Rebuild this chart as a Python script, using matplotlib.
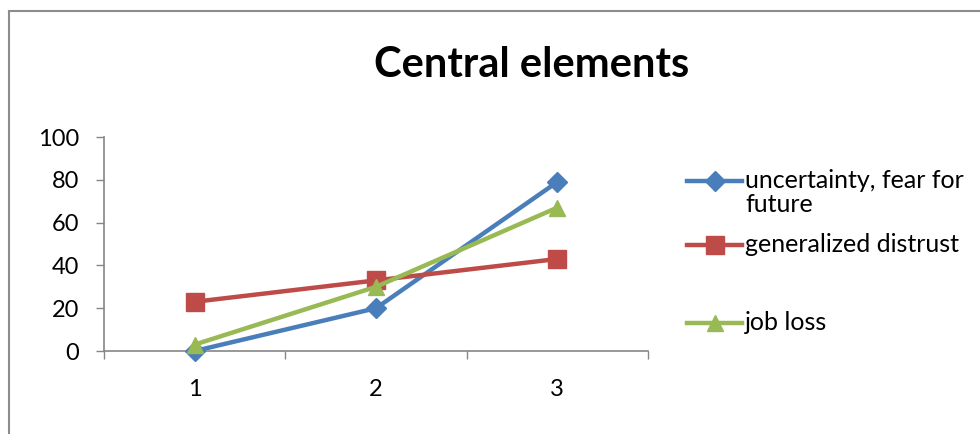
import matplotlib
matplotlib.use("Agg")
import matplotlib.pyplot as plt
from matplotlib.lines import Line2D

plt.rcParams['font.family'] = ['Lato', 'DejaVu Sans']

categories = [1, 2, 3]
uncertainty = [0, 20, 79]
distrust = [23, 33, 43]
job_loss = [3, 30, 67]
y_ticks = [0, 20, 40, 60, 80, 100]
title = "Central elements"

colors = ["#4A7EBB", "#BE4B48", "#98B954"]
markers = ["D", "s", "^"]
msizes = [10, 12.5, 12]

fig = plt.figure(figsize=(9.8, 4.34), dpi=100)
ax = fig.add_axes([104 / 980, 1 - 351 / 434, (648 - 104) / 980, (351 - 137) / 434])

for vals, c, m, ms in zip([uncertainty, distrust, job_loss], colors, markers, msizes):
    ax.plot(categories, vals, color=c, lw=3.2, marker=m, ms=ms,
            markerfacecolor=c, markeredgecolor=c, clip_on=False, zorder=3)

ax.set_xlim(0.5, 3.5)
ax.set_ylim(0, 100)
ax.set_yticks(y_ticks)
ax.set_xticks(categories)
ax.set_xticks([0.5, 1.5, 2.5, 3.5], minor=True)
ax.tick_params(axis='x', which='major', length=0, pad=20, labelsize=17)
ax.tick_params(axis='x', which='minor', length=6, color='#868686', width=1)
ax.tick_params(axis='y', length=6, color='#868686', width=1, pad=12, labelsize=17)

for s in ['top', 'right']:
    ax.spines[s].set_visible(False)
for s in ['left', 'bottom']:
    ax.spines[s].set_color('#868686')
    ax.spines[s].set_linewidth(1.2)
    ax.spines[s].set_zorder(1)

fig.text(532 / 980, 1 - 65 / 434, title, ha='center', va='center',
         fontsize=30, fontweight='bold')

# outer chart border (top and left edges visible)
fig.add_artist(Line2D([9 / 980, 9 / 980], [0, 1 - 11 / 434], transform=fig.transFigure,
                      color='#8c8c8c', lw=1.5))
fig.add_artist(Line2D([9 / 980, 1], [1 - 11 / 434, 1 - 11 / 434], transform=fig.transFigure,
                      color='#8c8c8c', lw=1.5))

# legend: handle sample lines with markers, then the wrapped labels
legend_y = [181, 245, 323]
for c, m, ms, yy in zip(colors, markers, msizes, legend_y):
    yf = 1 - yy / 434
    fig.add_artist(Line2D([687 / 980, 742 / 980], [yf, yf], transform=fig.transFigure,
                          color=c, lw=3.2))
    fig.add_artist(Line2D([714.5 / 980], [yf], transform=fig.transFigure,
                          color=c, marker=m, ms=ms, lw=0))

legend_lines = [("uncertainty, fear for", 181), ("future", 205),
                ("generalized distrust", 245), ("job loss", 323)]
for txt, yy in legend_lines:
    fig.text(745 / 980, 1 - yy / 434, txt, ha='left', va='center', fontsize=18)

fig.savefig("out.png", dpi=100)
